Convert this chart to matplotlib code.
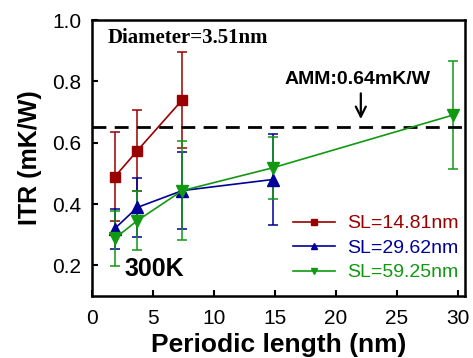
import numpy as np
import matplotlib
matplotlib.use('Agg')
import matplotlib.pyplot as plt
from matplotlib.lines import Line2D

plt.rcParams['font.family'] = ['Liberation Sans', 'DejaVu Sans']

# data
period = [1.85, 3.7, 7.4, 14.8, 29.6]

sl1_x = period[:3]
sl1_y = [0.489, 0.574, 0.740]
sl1_err = [0.145, 0.133, 0.156]

sl2_x = period[:4]
sl2_y = [0.320, 0.389, 0.444, 0.480]
sl2_err = [0.065, 0.097, 0.125, 0.147]

sl3_x = period
sl3_y = [0.288, 0.346, 0.444, 0.518, 0.690]
sl3_err = [0.090, 0.097, 0.160, 0.102, 0.177]

labels = ['SL=14.81nm', 'SL=29.62nm', 'SL=59.25nm']
colors = ['#990000', '#000099', '#119911']
amm = 0.65

fig = plt.figure(figsize=(4.73, 3.58), dpi=100)
ax = fig.add_axes([0.195, 0.173, 0.788, 0.771])

series = [(sl1_x, sl1_y, sl1_err, 's'), (sl2_x, sl2_y, sl2_err, '^'), (sl3_x, sl3_y, sl3_err, 'v')]
handles = []
for (x, y, e, m), lab, c in zip(series, labels, colors):
    ax.errorbar(x, y, yerr=e, color=c, marker=m, markersize=8 if m != 's' else 7,
                lw=1.2, elinewidth=1.1, capsize=3.5, capthick=1.1)
    handles.append(Line2D([], [], color=c, marker=m, markersize=5, lw=1.2, label=lab))

ax.axhline(amm, color='black', ls=(0, (5, 3)), lw=2)
ax.annotate('', xy=(22.05, 0.668), xytext=(22.05, 0.77),
            arrowprops=dict(arrowstyle='->', color='black', lw=1.6, mutation_scale=18))
ax.text(21.8, 0.805, 'AMM:0.64mK/W', ha='center', va='center', fontsize=14, fontweight='bold')
ax.text(1.3, 0.94, 'Diameter=3.51nm', ha='left', va='center', fontsize=15, fontweight='bold',
        family=['Liberation Serif', 'DejaVu Serif'])
ax.text(5.1, 0.187, '300K', ha='center', va='center', fontsize=18, fontweight='bold')

ax.set_xlim(0, 30.6)
ax.set_ylim(0.1, 1.0)
ax.set_xticks([0, 5, 10, 15, 20, 25, 30])
ax.set_yticks([0.2, 0.4, 0.6, 0.8, 1.0])
ax.yaxis.set_major_formatter(matplotlib.ticker.FormatStrFormatter('%.1f'))
ax.tick_params(direction='in', length=4, width=1.5, labelsize=15)
ax.tick_params(axis='y', pad=8)
ax.tick_params(axis='x', pad=9)
for s in ax.spines.values():
    s.set_linewidth(1.8)

ax.set_xlabel('Periodic length (nm)', fontsize=19, fontweight='bold', labelpad=4)
ax.set_ylabel('ITR (mK/W)', fontsize=18, fontweight='bold', labelpad=7)

leg = ax.legend(handles=handles, loc='lower right', bbox_to_anchor=(1.03, -0.01), frameon=False,
                fontsize=14, handlelength=2.2, labelspacing=0.35, handletextpad=0.6,
                labelcolor='linecolor')

fig.savefig('out.png', dpi=100)
